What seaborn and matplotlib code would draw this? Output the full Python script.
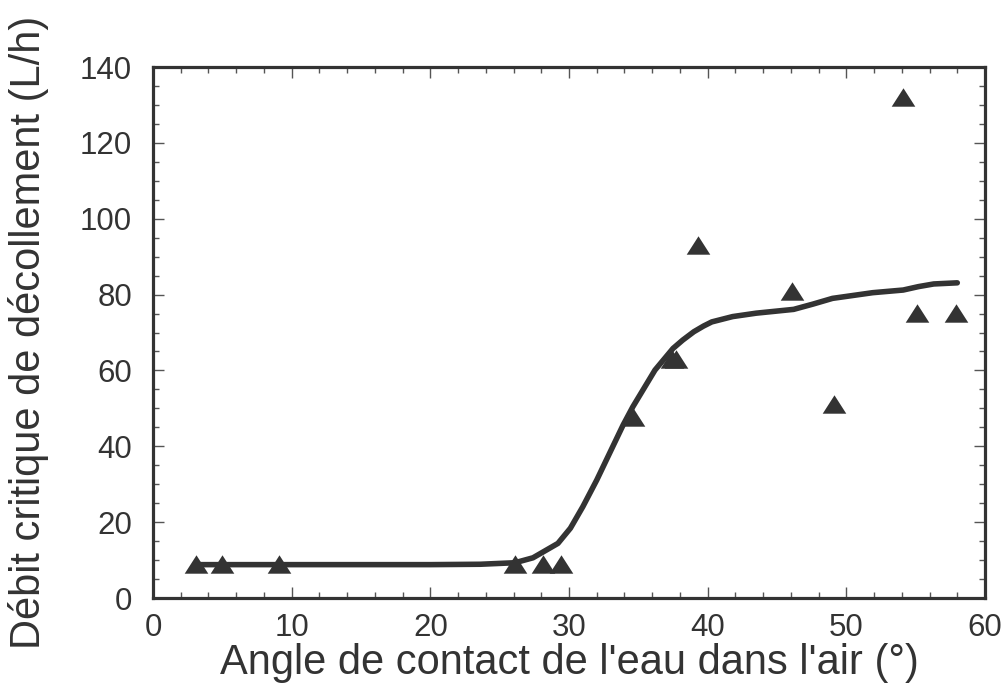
import numpy as np
import pandas as pd
import matplotlib
matplotlib.use("Agg")
import matplotlib.pyplot as plt
import seaborn as sns
from matplotlib.ticker import MultipleLocator

# Measured points (contact angle in degrees, critical flow in L/h)
angle_pts = [3.1, 5.0, 9.1, 26.1, 28.1, 29.4, 34.6, 37.4, 37.7, 39.3,
             46.1, 49.1, 54.1, 55.1, 57.9]
flow_pts = [9.0, 9.0, 9.0, 9.0, 9.0, 9.0, 47.8, 62.9, 62.9, 93.1,
            81.0, 51.1, 132.1, 75.1, 75.1]

# Fitted curve
angle_fit = [3.0, 10.0, 20.0, 23.6, 26.1, 27.4, 29.2, 30.1, 31.0, 32.0,
             33.1, 33.9, 34.6, 36.2, 37.5, 38.2, 39.0, 39.7, 40.3, 41.8,
             43.5, 46.2, 47.6, 49.0, 51.9, 54.1, 55.2, 56.3, 58.0]
flow_fit = [8.8, 8.8, 8.8, 8.9, 9.3, 10.6, 14.4, 18.4, 24.1, 31.1,
            39.5, 45.6, 50.4, 60.1, 65.8, 68.0, 70.2, 71.7, 72.8, 74.2,
            75.1, 76.1, 77.5, 79.0, 80.5, 81.2, 82.1, 82.8, 83.1]

x_ticks = [0, 10, 20, 30, 40, 50, 60]
y_ticks = [0, 20, 40, 60, 80, 100, 120, 140]

sns.set_theme(style="ticks")
plt.rcParams['font.family'] = ['Liberation Sans', 'DejaVu Sans']

dark = "#333333"
fig = plt.figure(figsize=(10.08, 6.88), dpi=100)
ax = fig.add_axes([0.1518, 0.1308, 0.8254, 0.7718])

df_fit = pd.DataFrame({"angle": angle_fit, "flow": flow_fit})
df_pts = pd.DataFrame({"angle": angle_pts, "flow": flow_pts})

sns.lineplot(data=df_fit, x="angle", y="flow", ax=ax, color=dark,
             linewidth=4.0, sort=False, zorder=2)

tri = [(-1.0, -0.78), (1.0, -0.78), (0.0, 0.78), (-1.0, -0.78)]
ax.plot(df_pts["angle"], df_pts["flow"], linestyle="none", marker=tri,
        markersize=17, color=dark, markeredgewidth=0, zorder=3)

ax.set_xlim(0, 60)
ax.set_ylim(0, 140)
ax.set_xticks(x_ticks)
ax.set_yticks(y_ticks)
ax.xaxis.set_minor_locator(MultipleLocator(2))
ax.yaxis.set_minor_locator(MultipleLocator(5))
ax.tick_params(which="both", direction="in", top=True, right=True,
               color="#555555", width=1.0)
ax.tick_params(which="major", length=8, labelsize=22.5, labelcolor=dark)
ax.tick_params(axis="y", which="major", pad=15)
ax.tick_params(axis="x", which="major", pad=11)
ax.tick_params(which="minor", length=4.5)

for s in ax.spines.values():
    s.set_visible(True)
    s.set_linewidth(2.3)
    s.set_color(dark)

ax.set_xlabel("Angle de contact de l'eau dans l'air (°)", fontsize=30,
              color=dark, labelpad=0)
ax.set_ylabel("Débit critique de décollement (L/h)", fontsize=30,
              color=dark, labelpad=22)

fig.savefig("out.png", dpi=100)
